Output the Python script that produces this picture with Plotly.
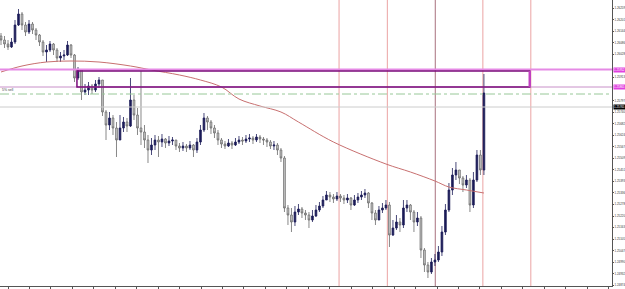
import plotly.graph_objects as go

# ---------------- data ----------------
first_open = 1.26120
close = [1.26100, 1.26080, 1.26065, 1.26090, 1.26175, 1.26230, 1.26175, 1.26140, 1.26180, 1.26150,
         1.26125, 1.26090, 1.26040, 1.26050, 1.26080, 1.26050, 1.26010, 1.26020, 1.26025, 1.26075,
         1.26025, 1.25910, 1.25950, 1.25840, 1.25850, 1.25870, 1.25850, 1.25880, 1.25900, 1.25740,
         1.25675, 1.25710, 1.25660, 1.25600, 1.25660, 1.25690, 1.25670, 1.25800, 1.25725, 1.25660,
         1.25640, 1.25600, 1.25550, 1.25575, 1.25600, 1.25590, 1.25605, 1.25585, 1.25595, 1.25600,
         1.25570, 1.25560, 1.25570, 1.25560, 1.25575, 1.25550, 1.25590, 1.25650, 1.25710, 1.25690,
         1.25660, 1.25635, 1.25600, 1.25580, 1.25570, 1.25585, 1.25575, 1.25590, 1.25600, 1.25595,
         1.25605, 1.25610, 1.25600, 1.25615, 1.25605, 1.25600, 1.25590, 1.25570, 1.25575, 1.25550,
         1.25510, 1.25260, 1.25225, 1.25190, 1.25240, 1.25255, 1.25235, 1.25225, 1.25200, 1.25220,
         1.25250, 1.25270, 1.25300, 1.25325, 1.25315, 1.25305, 1.25320, 1.25310, 1.25300, 1.25310,
         1.25275, 1.25300, 1.25315, 1.25325, 1.25335, 1.25285, 1.25235, 1.25200, 1.25250, 1.25260,
         1.25275, 1.25125, 1.25160, 1.25190, 1.25175, 1.25260, 1.25275, 1.25240, 1.25190, 1.25210,
         1.25050, 1.24975, 1.24940, 1.24990, 1.25000, 1.25040, 1.25140, 1.25250, 1.25350, 1.25425,
         1.25450, 1.25410, 1.25375, 1.25400, 1.25275, 1.25400, 1.25525, 1.25450, 1.25835]
high = [1.26135, 1.26120, 1.26100, 1.26110, 1.26200, 1.26255, 1.26240, 1.26190, 1.26200, 1.26190,
        1.26160, 1.26130, 1.26100, 1.26075, 1.26095, 1.26085, 1.26060, 1.26040, 1.26050, 1.26095,
        1.26080, 1.26030, 1.25965, 1.25950, 1.25880, 1.25890, 1.25880, 1.25900, 1.25915, 1.25900,
        1.25750, 1.25740, 1.25725, 1.25690, 1.25725, 1.25715, 1.25710, 1.25910, 1.25825, 1.25760,
        1.25945, 1.25675, 1.25625, 1.25610, 1.25625, 1.25620, 1.25630, 1.25610, 1.25620, 1.25615,
        1.25600, 1.25585, 1.25590, 1.25580, 1.25595, 1.25580, 1.25610, 1.25675, 1.25735, 1.25720,
        1.25700, 1.25675, 1.25650, 1.25610, 1.25595, 1.25605, 1.25595, 1.25610, 1.25620, 1.25615,
        1.25625, 1.25630, 1.25620, 1.25630, 1.25625, 1.25615, 1.25610, 1.25600, 1.25595, 1.25585,
        1.25560, 1.25520, 1.25275, 1.25260, 1.25270, 1.25280, 1.25265, 1.25250, 1.25240, 1.25250,
        1.25275, 1.25290, 1.25320, 1.25345, 1.25340, 1.25330, 1.25340, 1.25330, 1.25325, 1.25330,
        1.25315, 1.25325, 1.25335, 1.25345, 1.25355, 1.25340, 1.25290, 1.25250, 1.25270, 1.25285,
        1.25300, 1.25290, 1.25200, 1.25225, 1.25210, 1.25300, 1.25300, 1.25280, 1.25250, 1.25240,
        1.25220, 1.25060, 1.24990, 1.25010, 1.25030, 1.25070, 1.25170, 1.25280, 1.25385, 1.25460,
        1.25490, 1.25450, 1.25420, 1.25425, 1.25410, 1.25440, 1.25550, 1.25550, 1.25930]
low = [1.26075, 1.26060, 1.26050, 1.26060, 1.26080, 1.26170, 1.26150, 1.26120, 1.26130, 1.26130,
       1.26100, 1.26070, 1.26020, 1.25990, 1.26040, 1.26025, 1.25990, 1.25990, 1.26000, 1.26020,
       1.26010, 1.25890, 1.25900, 1.25800, 1.25825, 1.25825, 1.25830, 1.25840, 1.25860, 1.25720,
       1.25600, 1.25650, 1.25625, 1.25515, 1.25600, 1.25640, 1.25640, 1.25665, 1.25700, 1.25625,
       1.25575, 1.25560, 1.25485, 1.25525, 1.25550, 1.25515, 1.25565, 1.25560, 1.25570, 1.25575,
       1.25550, 1.25540, 1.25545, 1.25540, 1.25550, 1.25515, 1.25535, 1.25575, 1.25640, 1.25650,
       1.25630, 1.25610, 1.25575, 1.25560, 1.25555, 1.25565, 1.25555, 1.25570, 1.25580, 1.25575,
       1.25585, 1.25590, 1.25580, 1.25590, 1.25585, 1.25575, 1.25565, 1.25555, 1.25550, 1.25525,
       1.25490, 1.25240, 1.25175, 1.25140, 1.25170, 1.25225, 1.25210, 1.25200, 1.25160, 1.25190,
       1.25215, 1.25240, 1.25260, 1.25300, 1.25290, 1.25285, 1.25295, 1.25290, 1.25280, 1.25285,
       1.25250, 1.25270, 1.25285, 1.25300, 1.25310, 1.25260, 1.25200, 1.25175, 1.25210, 1.25235,
       1.25250, 1.25065, 1.25120, 1.25150, 1.25140, 1.25160, 1.25240, 1.25200, 1.25140, 1.25170,
       1.25010, 1.24940, 1.24910, 1.24930, 1.24970, 1.24990, 1.25020, 1.25125, 1.25240, 1.25325,
       1.25400, 1.25380, 1.25340, 1.25360, 1.25240, 1.25260, 1.25390, 1.25425, 1.25425]

# moving average (sampled at candle indices)
ma_idx = [0, 6, 13, 20, 28, 37, 43, 51, 57, 63, 68, 74, 80, 85, 95, 110, 117, 124, 128, 133, 138]
ma_val = [1.25940, 1.25970, 1.25990, 1.25995, 1.25990, 1.25970, 1.25950, 1.25925, 1.25900, 1.25865,
          1.25805, 1.25770, 1.25740, 1.25690, 1.25590, 1.25480, 1.25440, 1.25395, 1.25365, 1.25350,
          1.25335]

# levels
zone_line = 1.25952
zone_top = 1.25945
zone_bottom = 1.25865
green_level = 1.25830
gray_level = 1.25765
zone_start = 21.7
zone_end = 151.1

# vertical separators (candle index) and colours
vline_pos = [96.6, 110.4, 124.1, 137.7, 151.4]
vline_col = ["#eba3a3", "#eba3a3", "#a8707e", "#eba3a3", "#eba3a3"]

# price axis labels (the ones not hidden under the level boxes)
tick_labels = ["1.26259", "1.26201", "1.26144", "1.26086", "1.26028", "1.25913",
               "1.25797", "1.25740", "1.25682", "1.25624", "1.25567", "1.25509",
               "1.25451", "1.25393", "1.25336", "1.25278", "1.25220", "1.25163", "1.25105",
               "1.25047", "1.24990", "1.24932", "1.24874"]
y_min, y_max = 1.24870, 1.26300
x_min, x_max = -0.29, 174.6

# ---------------- figure ----------------
opens = [first_open] + close[:-1]
highs = [max(h, o, c) for h, o, c in zip(high, opens, close)]
lows = [min(l, o, c) for l, o, c in zip(low, opens, close)]
idx = list(range(len(close)))

fig = go.Figure()
fig.add_trace(go.Candlestick(
    x=idx, open=opens, high=highs, low=lows, close=close,
    increasing=dict(line=dict(color="#1c1c58", width=0.8), fillcolor="#1c1c58"),
    decreasing=dict(line=dict(color="#6a6a6a", width=0.8), fillcolor="#d0d0d0"),
    whiskerwidth=0, showlegend=False, hoverinfo="skip"))
fig.add_trace(go.Scatter(x=ma_idx, y=ma_val, mode="lines",
                         line=dict(color="#c87070", width=1, shape="spline"),
                         showlegend=False, hoverinfo="skip"))

shapes = []
for xp, col in zip(vline_pos, vline_col):
    shapes.append(dict(type="line", xref="x", yref="paper", x0=xp, x1=xp, y0=0, y1=1,
                       line=dict(color=col, width=1), layer="below"))
shapes += [
    dict(type="line", xref="paper", yref="y", x0=0, x1=1, y0=zone_line, y1=zone_line,
         line=dict(color="#e58ae5", width=2)),
    dict(type="line", xref="paper", yref="y", x0=0, x1=1, y0=zone_bottom, y1=zone_bottom,
         line=dict(color="#c890c8", width=1)),
    dict(type="line", xref="paper", yref="y", x0=0, x1=1, y0=green_level, y1=green_level,
         line=dict(color="#98c898", width=1, dash="dashdot")),
    dict(type="line", xref="paper", yref="y", x0=0, x1=1, y0=gray_level, y1=gray_level,
         line=dict(color="#cccccc", width=1)),
    dict(type="rect", xref="x", yref="y", x0=zone_start, x1=zone_end, y0=zone_bottom, y1=zone_top,
         line=dict(color="#7a0a7a", width=1.5)),
    dict(type="line", xref="x", yref="y", x0=zone_end, x1=zone_end, y0=zone_bottom, y1=zone_top,
         line=dict(color="#c040c0", width=2.5)),
]

lab_font = 2.9
annotations = [
    dict(xref="paper", yref="y", x=1, y=zone_line, xanchor="left", xshift=1, text="1.25952",
         showarrow=False, bgcolor="#e040e0", font=dict(size=lab_font, color="#ffffff"), borderpad=0),
    dict(xref="paper", yref="y", x=1, y=zone_bottom, xanchor="left", xshift=1, text="1.25865",
         showarrow=False, bgcolor="#e040e0", font=dict(size=lab_font, color="#ffffff"), borderpad=0),
    dict(xref="paper", yref="y", x=1, y=gray_level, xanchor="left", xshift=1, text="1.25765",
         showarrow=False, bgcolor="#000000", font=dict(size=lab_font, color="#ffffff"), borderpad=0),
    dict(xref="paper", yref="y", x=0, y=green_level, xanchor="left", yanchor="bottom", text="5% sell",
         showarrow=False, font=dict(size=3.5, color="#444444")),
]

fig.update_layout(
    width=625, height=289,
    margin=dict(l=0, r=13, t=0, b=3, autoexpand=False),
    paper_bgcolor="white", plot_bgcolor="white",
    font=dict(family="Liberation Sans", size=lab_font, color="#333333"),
    shapes=shapes, annotations=annotations,
    xaxis=dict(range=[x_min, x_max], rangeslider=dict(visible=False), showgrid=False,
               zeroline=False, showline=True, linecolor="#555555", linewidth=1,
               ticks="outside", ticklen=3, tickcolor="#555555", tick0=2, dtick=6.13,
               showticklabels=False, automargin=False),
    yaxis=dict(range=[y_min, y_max], side="right", showgrid=False, zeroline=False,
               showline=True, linecolor="#555555", linewidth=1,
               ticks="outside", ticklen=1, tickcolor="#555555", automargin=False,
               ticklabelstandoff=0,
               tickvals=[float(t) for t in tick_labels], ticktext=tick_labels,
               tickfont=dict(size=lab_font, color="#333333")),
)

fig.write_html("out.html")
